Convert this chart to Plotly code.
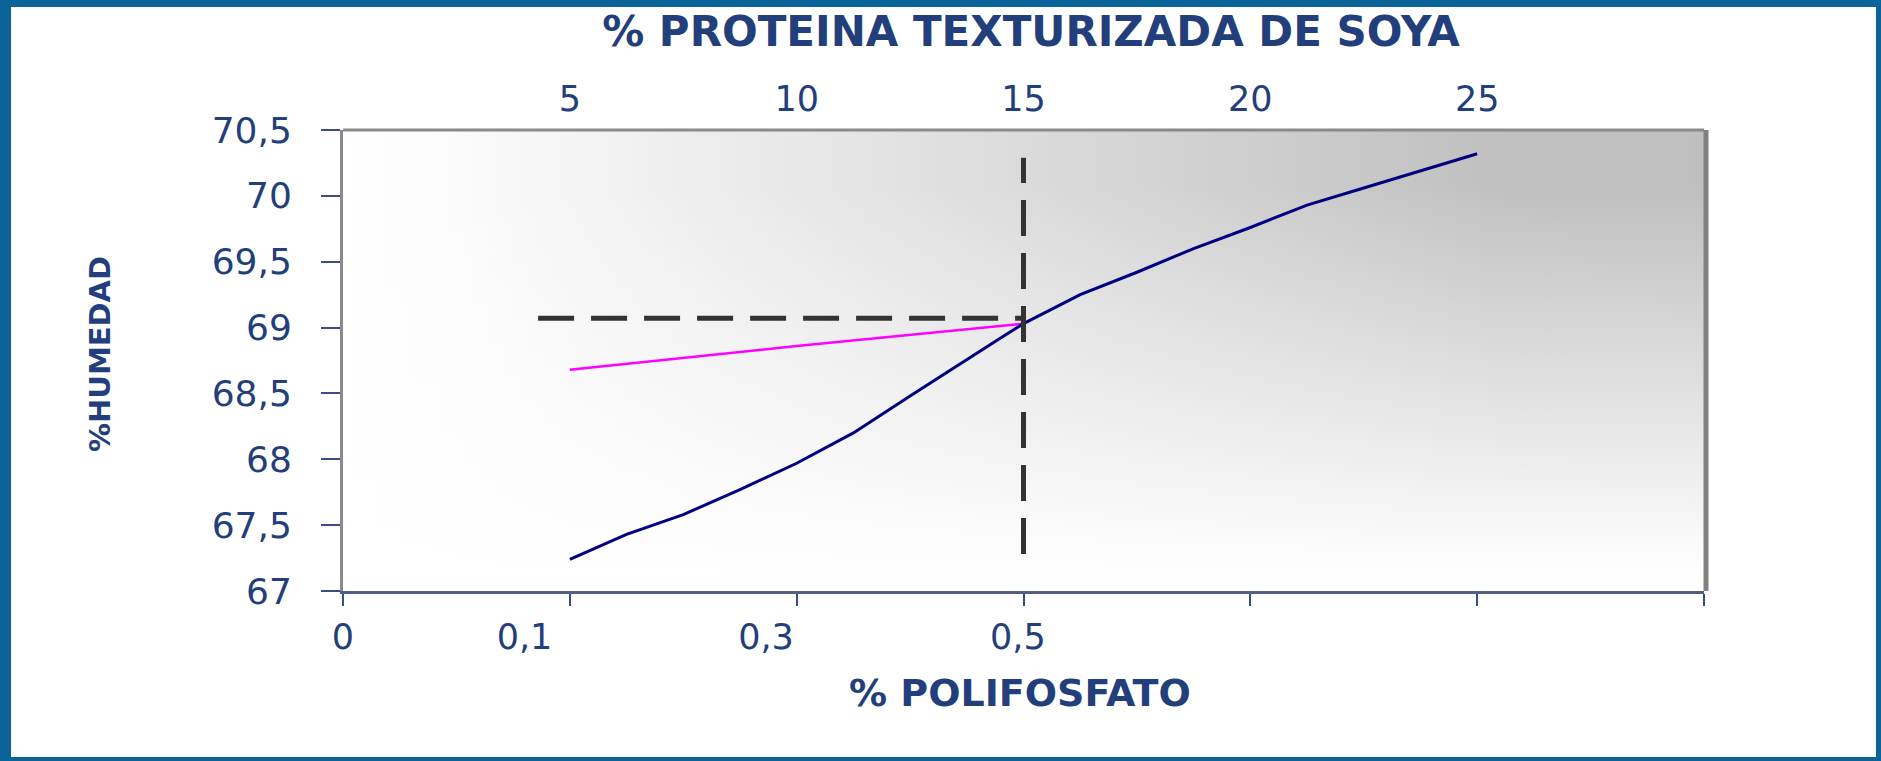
import base64
import plotly.graph_objects as go

# % proteina texturizada de soya (eje superior) vs % humedad
proteina = [5, 6.25, 7.5, 8.75, 10, 11.25, 12.5, 13.75, 14.4, 15,
            16.25, 17.5, 18.75, 20, 21.25, 22.5, 23.75, 25]
humedad_prot = [67.24, 67.43, 67.58, 67.77, 67.97, 68.20, 68.48, 68.76, 68.90, 69.03,
                69.25, 69.42, 69.60, 69.76, 69.93, 70.06, 70.19, 70.32]

# % polifosfato (eje inferior) vs % humedad
polifosfato = [0.1, 0.3, 0.5]
humedad_poli = [68.68, 68.86, 69.03]

# lineas de lectura (punto optimo)
opt_prot = 15
opt_hum = 69.07
guia_x = [4.3, 15]
guia_y = [67.28, 70.29]

top_ticks = [5, 10, 15, 20, 25]
bottom_labels = ["0", "0,1", "0,3", "0,5"]
bottom_label_pos = [-0.1, 0.06, 0.273, 0.495]

W, H = 1881, 761
L, R, T, B = 343, 177, 130, 170
PW, PH = W - L - R, H - T - B
TXT = "#233F7B"
BLUE = "#0A6499"


def px(x):
    return (x - L) / PW


def py(y):
    return (H - B - y) / PH


svg = (
    "<svg xmlns='http://www.w3.org/2000/svg' width='100' height='100' "
    "viewBox='0 0 100 100' preserveAspectRatio='none'><defs>"
    "<linearGradient id='h' x1='0' y1='0' x2='1' y2='0'>"
    "<stop offset='0' stop-color='#ffffff'/><stop offset='0.08' stop-color='#fbfbfb'/>"
    "<stop offset='0.85' stop-color='#c0c0c0'/><stop offset='1' stop-color='#bfbfbf'/></linearGradient>"
    "<linearGradient id='v' x1='0' y1='0' x2='0' y2='1'>"
    "<stop offset='0.12' stop-color='#ffffff' stop-opacity='0'/>"
    "<stop offset='0.97' stop-color='#ffffff' stop-opacity='1'/></linearGradient></defs>"
    "<rect width='100' height='100' fill='url(#h)'/>"
    "<rect width='100' height='100' fill='url(#v)'/></svg>"
)
bg_src = "data:image/svg+xml;base64," + base64.b64encode(svg.encode()).decode()

fig = go.Figure()

# linea de proteina
fig.add_trace(go.Scatter(x=proteina, y=humedad_prot, xaxis="x2", mode="lines",
                         line=dict(color="#000080", width=3), showlegend=False,
                         hoverinfo="skip"))
# linea de polifosfato
fig.add_trace(go.Scatter(x=polifosfato, y=humedad_poli, mode="lines",
                         line=dict(color="#FF00FF", width=2.5), showlegend=False,
                         hoverinfo="skip"))
# guias punteadas
fig.add_trace(go.Scatter(x=guia_x, y=[opt_hum, opt_hum], xaxis="x2", mode="lines",
                         line=dict(color="#333333", width=5, dash="36px,17px"),
                         showlegend=False, hoverinfo="skip"))
fig.add_trace(go.Scatter(x=[opt_prot, opt_prot], y=guia_y, xaxis="x2", mode="lines",
                         line=dict(color="#333333", width=5, dash="36px,17px"),
                         showlegend=False, hoverinfo="skip"))

fig.update_layout(
    width=W, height=H,
    margin=dict(l=L, r=R, t=T, b=B),
    paper_bgcolor="white",
    plot_bgcolor="rgba(0,0,0,0)",
    separators=",.",
    xaxis=dict(range=[-0.1, 1.1], tickmode="array", tickvals=bottom_label_pos,
               ticktext=bottom_labels, ticks="", ticklabelstandoff=13,
               tickfont=dict(family="DejaVu Sans", size=35, color=TXT),
               minor=dict(tickmode="linear", tick0=-0.1, dtick=0.2, ticks="outside",
                          ticklen=12, tickwidth=1.5, tickcolor="#3A4E85", showgrid=False),
               showline=True, linecolor="#4F5F80", linewidth=3,
               showgrid=False, zeroline=False),
    xaxis2=dict(overlaying="x", anchor="y", side="top", range=[0, 30],
                tickmode="array", tickvals=top_ticks, ticks="", ticklabelstandoff=11,
                tickfont=dict(family="DejaVu Sans", size=35, color=TXT),
                showline=False, showgrid=False, zeroline=False),
    yaxis=dict(range=[67, 70.5], dtick=0.5, tick0=67, ticks="outside", ticklen=19,
               tickwidth=1.5, tickcolor="#3A4E85", ticklabelstandoff=22,
               tickfont=dict(family="DejaVu Sans", size=36, color=TXT),
               showline=True, linecolor="#8A8A8A", linewidth=3,
               showgrid=False, zeroline=False),
    title=dict(text="<b>% PROTEINA TEXTURIZADA DE SOYA</b>", xref="paper",
               x=px(1031), xanchor="center", yref="container", y=1 - 31 / H,
               yanchor="middle", font=dict(family="DejaVu Sans", size=42, color=TXT)),
    images=[dict(source=bg_src, xref="paper", yref="paper", x=0, y=1, sizex=1, sizey=1,
                 xanchor="left", yanchor="top", sizing="stretch", layer="below")],
)

fig.add_annotation(text="<b>% POLIFOSFATO</b>", xref="paper", yref="paper",
                   x=px(1020), y=py(693), showarrow=False, xanchor="center", yanchor="middle",
                   font=dict(family="DejaVu Sans", size=38, color=TXT))
fig.add_annotation(text="<b>%HUMEDAD</b>", xref="paper", yref="paper",
                   x=px(100), y=py(354), showarrow=False, textangle=-90,
                   xanchor="center", yanchor="middle",
                   font=dict(family="DejaVu Sans", size=29, color=TXT))

# marco del area de trazado
fig.add_shape(type="line", xref="paper", yref="paper", x0=0, x1=1, y0=1, y1=1,
              line=dict(color="#8A8A8A", width=3))
fig.add_shape(type="line", xref="paper", yref="paper", x0=1 + 2 / PW, x1=1 + 2 / PW,
              y0=0, y1=1, line=dict(color="#808080", width=5))

# marco azul exterior
for x0, x1, y0, y1 in [(0, 11, 0, H), (0, W, 0, 7), (W - 5, W, 0, H), (0, W, H - 4, H)]:
    fig.add_shape(type="rect", xref="paper", yref="paper",
                  x0=px(x0), x1=px(x1), y0=py(y0), y1=py(y1),
                  line=dict(width=0), fillcolor=BLUE)

fig.write_html("out.html", config=dict(displayModeBar=False),
               post_script="document.body.style.margin='0';")
